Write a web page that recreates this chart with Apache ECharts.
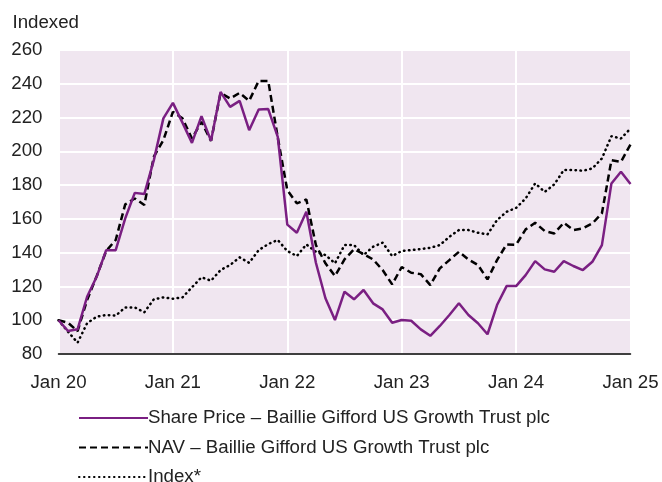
<!DOCTYPE html>
<html>
<head>
<meta charset="utf-8">
<script src="https://cdn.jsdelivr.net/npm/echarts@6/dist/echarts.min.js"></script>
<style>
  html, body { margin: 0; padding: 0; background: #fff; }
  #chart { width: 662px; height: 482px; }
</style>
</head>
<body>
<div id="chart"></div>
<script>
// monthly points, Jan 20 .. Jan 25
const years = ['20', '21', '22', '23', '24']
const monthNames = ['Jan', 'Feb', 'Mar', 'Apr', 'May', 'Jun', 'Jul', 'Aug', 'Sep', 'Oct', 'Nov', 'Dec']
const yTicks = [80, 100, 120, 140, 160, 180, 200, 220, 240, 260]

const sharePrice = [
    100, 93.6, 94.6, 113.9, 125.7, 141.5, 141.5, 160.3, 175.4, 174.7, 194.8, 219.5,
    228.7, 217, 205, 220.8, 206.2, 235.2, 226.3, 229.9, 212.5, 224.8, 225, 208.6,
    156.6, 151.8, 164.2, 134, 113, 100.1, 116.9, 112.4, 117.9, 110, 106.4, 98.5,
    100.1, 99.7, 94.6, 90.8, 96.6, 103.1, 110, 103.1, 98.2, 91.7, 109, 120.2,
    120.2, 126.7, 135, 130.1, 128.7, 135, 132.1, 129.7, 134.6, 144.5, 181, 187.9,
    180.6
]
const nav = [
    100, 98.5, 93.5, 112, 126, 141, 147.5, 168.6, 172.1, 168.2, 196.8, 206.6,
    223.4, 219.5, 207.6, 217.5, 206.2, 234.6, 231.3, 234.6, 229.9, 241.7, 241.7, 208.2,
    177, 169.2, 171.5, 144.5, 133.7, 126.2, 136, 142, 139.2, 136, 129.7, 121.2,
    131.5, 128.1, 127.3, 120.8, 130.7, 135.6, 140.5, 136, 132.7, 124.2, 135.6, 144.9,
    144.7, 153.8, 157.7, 152.8, 151.4, 157.7, 153.4, 154.4, 157.3, 163.3, 194.8, 193.8,
    204.1
]
const indexSeries = [
    100, 93.2, 86.7, 98.2, 102.1, 103.1, 102.7, 107.6, 107.6, 104.7, 112.4, 113.5,
    112.7, 113.5, 119.5, 125.4, 123.4, 129.7, 132.7, 137.2, 134, 141.5, 145.1, 147.5,
    141, 138, 144.9, 140.5, 138.6, 133.7, 144.5, 144.5, 138.6, 143.5, 145.9, 138,
    141, 141.5, 142.1, 142.9, 144.5, 149.4, 153.4, 153.4, 151.8, 150.8, 159.3, 164.2,
    166.5, 172.1, 181, 176, 180.4, 188.9, 188.9, 188.5, 189.9, 195.8, 209, 207.6,
    213.5
]

let months = []
years.forEach(y => monthNames.forEach(m => months.push(m + ' ' + y)))
months.push('Jan 25')

const font = 'Liberation Sans, Arial, Helvetica, sans-serif'
const fontSize = 18.7
const textColor = '#222'
const isYearStart = idx => idx % 12 === 0

let chart = echarts.init(document.getElementById('chart'), null, { renderer: 'canvas' })
chart.setOption({
    animation: false,
    textStyle: { fontFamily: font },
    grid: {
        left: 58.5, right: 31.5, top: 50, bottom: 128,
        show: true, backgroundColor: '#f0e6f0', borderWidth: 0
    },
    legend: {
        orient: 'vertical',
        left: 73, top: 403, height: 100,
        itemWidth: 69, itemHeight: 14, itemGap: 9.5,
        itemStyle: { opacity: 0 },
        textStyle: { fontSize: fontSize, color: textColor, fontFamily: font, lineHeight: 20, padding: [0, 0, 0, -5] },
        data: [
            'Share Price – Baillie Gifford US Growth Trust plc',
            'NAV – Baillie Gifford US Growth Trust plc',
            'Index*'
        ]
    },
    xAxis: {
        type: 'category',
        data: months,
        boundaryGap: false,
        axisLine: { lineStyle: { color: '#000', width: 1.5 } },
        axisTick: { show: false },
        axisLabel: {
            interval: (idx) => isYearStart(idx),
            color: textColor, fontSize: fontSize, margin: 19,
            showMaxLabel: true
        },
        splitLine: {
            show: true,
            interval: (idx) => isYearStart(idx),
            lineStyle: { color: '#fff', width: 2 }
        }
    },
    yAxis: {
        type: 'value',
        min: yTicks[0], max: yTicks[yTicks.length - 1], interval: 20,
        name: 'Indexed',
        nameLocation: 'end',
        nameGap: 18,
        nameTextStyle: { color: textColor, fontSize: fontSize, align: 'left', padding: [0, 0, 0, -46] },
        axisLine: { show: false },
        axisTick: { show: false },
        axisLabel: { color: textColor, fontSize: fontSize, margin: 16 },
        splitLine: { lineStyle: { color: '#fff', width: 2 } }
    },
    series: [
        {
            name: 'Share Price – Baillie Gifford US Growth Trust plc',
            type: 'line', data: sharePrice, symbol: 'none', z: 4,
            lineStyle: { color: '#7a1f82', width: 2.5 },
            itemStyle: { color: '#7a1f82' }
        },
        {
            name: 'NAV – Baillie Gifford US Growth Trust plc',
            type: 'line', data: nav, symbol: 'none', z: 3,
            lineStyle: { color: '#000', width: 2.5, type: [7, 4] },
            itemStyle: { color: '#000' }
        },
        {
            name: 'Index*',
            type: 'line', data: indexSeries, symbol: 'none', z: 2,
            lineStyle: { color: '#000', width: 2.5, type: [0.5, 4.5], cap: 'round' },
            itemStyle: { color: '#000' }
        }
    ]
})
</script>
</body>
</html>
